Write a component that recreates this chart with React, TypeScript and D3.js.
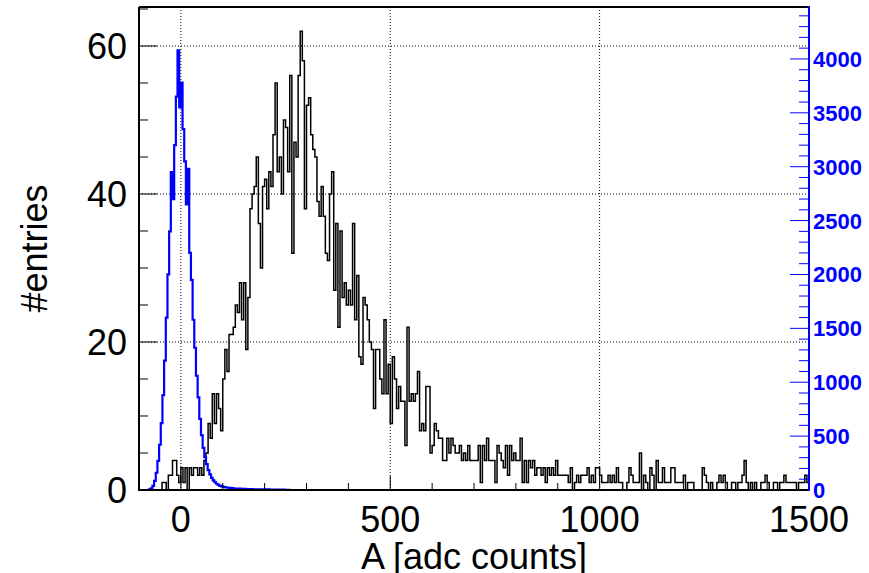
import React from "react";
import * as d3 from "d3";

// ---- data ----
const X_MIN = -100;
const X_MAX = 1500;
const LEFT_MAX = 65.27;
const RIGHT_MAX = 4482;

// black histogram: 320 bins of width 5 starting at -100
const blackStart = -100;
const blackWidth = 5;
const blackCounts = [
  0,0,0,0,0,0,0,0,0,0,
  0,1,1,0,2,2,4,4,2,1,
  3,1,3,0,3,2,3,3,2,3,
  2,4,5,9,7,13,9,13,11,8,
  15,19,16,21,21,22,25,24,28,23,
  28,19,26,38,40,41,45,36,30,41,
  42,38,43,41,48,55,43,45,40,50,
  49,43,56,32,47,45,56,62,58,38,
  52,53,48,46,45,39,37,41,37,32,
  31,40,43,27,36,22,35,26,28,25,
  27,25,36,23,29,18,17,26,25,23,
  20,19,11,19,19,15,13,23,13,17,
  9,18,15,11,14,12,12,6,22,12,
  13,12,13,16,8,9,8,14,14,5,
  6,9,8,7,7,4,4,7,5,7,
  6,5,5,6,4,5,4,6,4,4,
  4,4,6,1,6,4,7,4,4,4,
  1,6,5,4,3,6,2,6,4,5,
  4,4,7,1,4,1,4,3,4,2,
  3,3,2,3,1,3,2,3,2,4,
  2,2,2,2,2,1,3,0,1,2,
  1,2,2,2,3,1,2,1,3,3,
  2,1,1,1,2,1,2,1,3,1,
  1,0,0,1,3,2,1,1,1,5,
  0,2,1,0,3,2,0,4,1,1,
  3,1,1,1,3,3,1,1,1,1,
  2,0,1,1,1,0,0,0,0,3,
  2,1,0,1,0,0,1,2,1,2,
  1,0,0,1,1,0,1,1,2,4,
  1,0,1,0,1,0,0,1,1,2,
  1,0,0,1,1,0,1,1,2,1,
  1,1,1,1,0,1,1,1,2,1,
];

// blue histogram: bins of width 4 starting at -80
const blueStart = -80;
const blueWidth = 4;
const blueCounts = [
  0,6,16,38,85,160,270,420,620,880,
  1200,1600,2000,2400,2950,2700,3200,3650,4080,3550,
  3780,3350,3050,2650,2980,2200,1950,1580,1320,1060,
  860,660,510,390,305,240,185,145,112,90,
  72,58,47,39,34,29,26,23,21,19,
  17,15,14,13,12,12,11,10,10,9,
  9,8,8,7,7,7,6,6,6,5,
  5,5,5,4,4,4,4,3,3,3,
  3,3,2,2,2,
];

const xMajorTicks = [0, 500, 1000, 1500];
const xMinorTicks = [-100, 100, 200, 300, 400, 600, 700, 800, 900, 1100, 1200, 1300, 1400];
const leftMajorTicks = [0, 20, 40, 60];
const leftMinorTicks = [5, 10, 15, 25, 30, 35, 45, 50, 55, 65];
const rightMajorTicks = [0, 500, 1000, 1500, 2000, 2500, 3000, 3500, 4000];
const gridX = [0, 500, 1000];
const gridY = [20, 40, 60];

const xTitle = "A [adc counts]";
const yTitle = "#entries";

// ---- layout ----
const W = 869;
const H = 573;
const L = 139;
const R = 809;
const T = 7;
const B = 490;
const FONT = "'Liberation Sans', Arial, Helvetica, sans-serif";

export default function App() {
  const x = d3.scaleLinear().domain([X_MIN, X_MAX]).range([L, R]);
  const yL = d3.scaleLinear().domain([0, LEFT_MAX]).range([B, T]);
  const yR = d3.scaleLinear().domain([0, RIGHT_MAX]).range([B, T]);

  const rightMinorTicks = d3.range(0, RIGHT_MAX, 100).filter((v) => v % 500 !== 0);

  const stepPath = (start: number, width: number, vals: number[], ys: d3.ScaleLinear<number, number>) => {
    let p = `M${x(X_MIN)},${ys(0)}L${x(start)},${ys(0)}`;
    vals.forEach((v, i) => {
      const lo = start + i * width;
      const hi = lo + width;
      p += `L${x(lo)},${ys(v)}L${x(hi)},${ys(v)}`;
    });
    const end = start + vals.length * width;
    p += `L${x(end)},${ys(0)}L${x(X_MAX)},${ys(0)}`;
    return p;
  };

  const blackPath = stepPath(blackStart, blackWidth, blackCounts, yL);
  const bluePath = stepPath(blueStart, blueWidth, blueCounts, yR);

  return (
    <svg
      width={W}
      height={H}
      style={{ position: "absolute", left: 0, top: 0, background: "#fff" }}
      fontFamily={FONT}
    >
      <rect x={0} y={0} width={W} height={H} fill="#fff" />
      {/* grid */}
      {gridX.map((v) => (
        <line key={"gx" + v} x1={x(v)} x2={x(v)} y1={T} y2={B} stroke="#000" strokeWidth={1} strokeDasharray="1 2" />
      ))}
      {gridY.map((v) => (
        <line key={"gy" + v} x1={L} x2={R} y1={yL(v)} y2={yL(v)} stroke="#000" strokeWidth={1} strokeDasharray="1 2" />
      ))}

      {/* histograms */}
      <path d={blackPath} fill="none" stroke="#000" strokeWidth={1.5} />
      <path d={bluePath} fill="none" stroke="#0000ff" strokeWidth={2.2} />

      {/* x axis ticks */}
      {xMajorTicks.map((v) => (
        <line key={"xM" + v} x1={x(v)} x2={x(v)} y1={B} y2={B - 14} stroke="#000" strokeWidth={1} />
      ))}
      {xMinorTicks.map((v) => (
        <line key={"xm" + v} x1={x(v)} x2={x(v)} y1={B} y2={B - 7} stroke="#000" strokeWidth={1} />
      ))}
      {/* left axis ticks */}
      {leftMajorTicks.map((v) => (
        <line key={"lM" + v} x1={L} x2={L + 18} y1={yL(v)} y2={yL(v)} stroke="#000" strokeWidth={1} />
      ))}
      {leftMinorTicks.map((v) => (
        <line key={"lm" + v} x1={L} x2={L + 9} y1={yL(v)} y2={yL(v)} stroke="#000" strokeWidth={1} />
      ))}
      {/* right axis ticks */}
      {rightMajorTicks.map((v) => (
        <line key={"rM" + v} x1={R} x2={R - 19} y1={yR(v)} y2={yR(v)} stroke="#0000ff" strokeWidth={1} />
      ))}
      {rightMinorTicks.map((v) => (
        <line key={"rm" + v} x1={R} x2={R - 10} y1={yR(v)} y2={yR(v)} stroke="#0000ff" strokeWidth={1} />
      ))}

      {/* frame */}
      <line x1={L} x2={R} y1={T} y2={T} stroke="#000" strokeWidth={2} />
      <line x1={L} x2={L} y1={T} y2={B} stroke="#000" strokeWidth={2} />
      <line x1={L - 1} x2={R} y1={B} y2={B} stroke="#000" strokeWidth={2} />
      <line x1={R} x2={R} y1={T - 1} y2={B + 1} stroke="#0000ff" strokeWidth={2} />

      {/* x labels */}
      {xMajorTicks.map((v) => (
        <text key={"xl" + v} x={x(v)} y={532} fontSize={36} textAnchor="middle" fill="#000">
          {v}
        </text>
      ))}
      {/* left labels */}
      {leftMajorTicks.map((v) => (
        <text key={"ll" + v} x={127} y={yL(v) + 13} fontSize={36} textAnchor="end" fill="#000">
          {v}
        </text>
      ))}
      {/* right labels */}
      {rightMajorTicks.map((v) => (
        <text key={"rl" + v} x={813} y={yR(v) + 8} fontSize={22} fontWeight="bold" textAnchor="start" fill="#0000ff">
          {v}
        </text>
      ))}

      {/* titles */}
      <text x={(L + R) / 2} y={569} fontSize={36} textAnchor="middle" fill="#000">
        {xTitle}
      </text>
      <text
        transform={`translate(47,${(T + B) / 2}) rotate(-90)`}
        fontSize={36}
        textAnchor="middle"
        fill="#000"
      >
        {yTitle}
      </text>
    </svg>
  );
}
